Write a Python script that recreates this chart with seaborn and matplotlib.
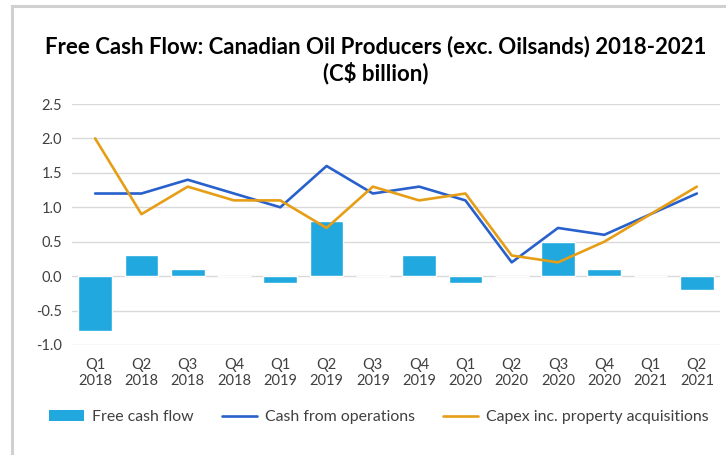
import pandas as pd
import matplotlib.pyplot as plt
import seaborn as sns
from matplotlib.patches import Rectangle
from matplotlib.lines import Line2D
from matplotlib.patches import Patch

# Datos
trimestres = ["Q1\n2018", "Q2\n2018", "Q3\n2018", "Q4\n2018",
              "Q1\n2019", "Q2\n2019", "Q3\n2019", "Q4\n2019",
              "Q1\n2020", "Q2\n2020", "Q3\n2020", "Q4\n2020",
              "Q1\n2021", "Q2\n2021"]
free_cash_flow = [-0.8, 0.3, 0.1, 0.0, -0.1, 0.8, 0.0, 0.3, -0.1, 0.0, 0.5, 0.1, 0.0, -0.2]
cash_operations = [1.2, 1.2, 1.4, 1.2, 1.0, 1.6, 1.2, 1.3, 1.1, 0.2, 0.7, 0.6, 0.9, 1.2]
capex = [2.0, 0.9, 1.3, 1.1, 1.1, 0.7, 1.3, 1.1, 1.2, 0.3, 0.2, 0.5, 0.9, 1.3]

df = pd.DataFrame({"Trimestre": trimestres, "FCF": free_cash_flow,
                   "CFO": cash_operations, "Capex": capex})

c_bar = "#21a8de"
c_cfo = "#2860cc"
c_capex = "#e69e17"
c_text = "#404040"

sns.set_style("white")
plt.rcParams["font.family"] = ["Lato", "DejaVu Sans"]

fig = plt.figure(figsize=(7.26, 4.55), dpi=100)
ax = fig.add_axes([72/726, 110/455, 648/726, 241/455])

sns.barplot(data=df, x="Trimestre", y="FCF", color=c_bar, width=0.73,
            saturation=1, ax=ax, zorder=2)
sns.lineplot(data=df, x="Trimestre", y="CFO", color=c_cfo, linewidth=1.9,
             sort=False, ax=ax, zorder=3)
sns.lineplot(data=df, x="Trimestre", y="Capex", color=c_capex, linewidth=1.9,
             sort=False, ax=ax, zorder=4)

ax.set_xlim(-0.5, 13.5)
ax.set_ylim(-1.0, 2.5)
ax.set_yticks([-1.0, -0.5, 0.0, 0.5, 1.0, 1.5, 2.0, 2.5])
ax.set_yticklabels([f"{v:.1f}" for v in ax.get_yticks()])
ax.yaxis.grid(True, color="#d9d9d9", linewidth=1.0, zorder=0)
ax.set_axisbelow(True)
for s in ax.spines.values():
    s.set_visible(False)
ax.tick_params(axis="both", length=0, labelsize=10.5, colors=c_text)
ax.tick_params(axis="x", pad=9)
ax.tick_params(axis="y", pad=7)
ax.set_xlabel("")
ax.set_ylabel("")

fig.text(0.518, 0.898, "Free Cash Flow: Canadian Oil Producers (exc. Oilsands) 2018-2021",
         ha="center", va="center", fontsize=16, fontweight="bold", color="black")
fig.text(0.518, 0.840, "(C$ billion)", ha="center", va="center",
         fontsize=16, fontweight="bold", color="black")

handles = [Patch(facecolor=c_bar, edgecolor="none", label="Free cash flow"),
           Line2D([0], [0], color=c_cfo, lw=1.9, label="Cash from operations"),
           Line2D([0], [0], color=c_capex, lw=1.9, label="Capex inc. property acquisitions")]
fig.legend(handles=handles, loc="center", bbox_to_anchor=(0.522, 0.083), ncol=3,
           frameon=False, fontsize=11.4, handlelength=2.2, handletextpad=0.5,
           columnspacing=1.8, labelcolor=c_text)

# marco gris del recuadro
fig.patches.append(Rectangle((12/726, -0.1), 1.1, (455-6)/455 + 0.1,
                             transform=fig.transFigure, fill=False,
                             edgecolor="#d0d0d0", linewidth=2.2))

fig.savefig("out.png", dpi=100)
